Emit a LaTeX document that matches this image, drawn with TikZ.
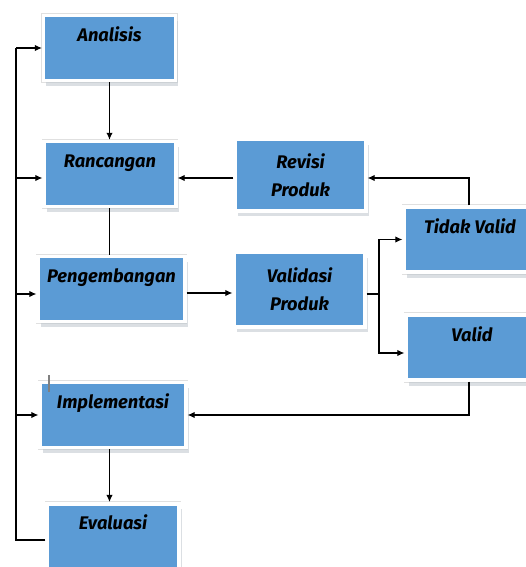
\documentclass[tikz,border=0pt]{standalone}
\usepackage{fontspec}
\setmainfont{Fira Sans}
\usepackage{tikz}
\usetikzlibrary{positioning,arrows.meta,calc,shadows}
\definecolor{boxblue}{RGB}{91,155,213}

\begin{document}
\begin{tikzpicture}[>={Latex[length=5pt,width=4.5pt]}, x=0.025cm, y=-0.025cm, line width=0.75pt,
	tahap/.style={rectangle, fill=boxblue, draw=white, line width=0.09cm,
		preaction={draw=black!12, line width=0.13cm},
		drop shadow={shadow xshift=0.07cm, shadow yshift=-0.14cm, fill=boxblue!40!black!30, opacity=0.55},
		font=\fontsize{13}{20}\selectfont\bfseries\itshape, align=center},
	satu/.style={tahap, inner ysep=0pt, text height=0.65cm, text depth=0.97cm},
	dua/.style={tahap}]
\clip (0,0) rectangle (526,567);
%	\draw[lightgray] (0,0) grid[step=50] (526,567);

\node[satu,minimum width=3.29cm] (Analisis) at (109.5,48) {Analisis};
\node[satu,minimum width=3.29cm] (Rancangan) at (110,174) {Rancangan};
\node[satu,minimum width=3.665cm] (Pengembangan) at (111.5,289) {Pengembangan};
\node[satu,minimum width=3.64cm] (Implementasi) at (113,415) {Implementasi};
\node[satu,minimum width=3.29cm,text depth=1.4cm,anchor=north] (Evaluasi) at (113,502) {Evaluasi};

\node[dua,minimum width=3.265cm,minimum height=1.79cm] (Revisi) at (300.5,175) {Revisi\\Produk};
\node[dua,minimum width=3.265cm,minimum height=1.865cm] (Validasi) at (299.5,289.5) {Validasi\\Produk};

\node[satu,minimum width=3.29cm] (TidakValid) at (470,239.5) {Tidak Valid};
\node[satu,minimum width=3.29cm] (Valid) at (472,347.5) {Valid};

\coordinate (Spine) at (16,540);
\coordinate (Tengah) at (109.5,0);
\coordinate (Cabang) at (379,294);
\coordinate (Balik) at (469,178);
\coordinate (Turun) at (469,415);

% garis kiri
\draw  (Evaluasi.west |- Spine) -- (Spine) -- (Spine |- Analisis);
\draw[->]  (Spine |- Analisis) -- (Analisis);
\draw[->]  (Spine |- Balik) -- (Rancangan.west |- Balik);
\draw[->]  (Spine |- Cabang) -- (Pengembangan.west |- Cabang);
\draw[->]  (Spine |- Turun) -- (Implementasi.west |- Turun);

\draw[->]  (Analisis.south -| Tengah) -- (Rancangan.north -| Tengah);
\draw  (Rancangan.south -| Tengah) -- (Pengembangan.north -| Tengah);
\draw[->]  (Implementasi.south -| Tengah) -- (Evaluasi.north -| Tengah);

\draw[->]  (Pengembangan.east |- 0,293) -- (Validasi.west |- 0,293);
\draw  (Validasi.east |- Cabang) -- (Cabang);
\draw[->]  (Cabang) |- (TidakValid.west);
\draw[->]  (Cabang) |- (Valid.west |- 0,353);

\draw[->]  (TidakValid.north -| Balik) -- (Balik) -- (Revisi.east |- Balik);
\draw[->]  (Revisi.west |- Balik) -- (Rancangan.east |- Balik);
\draw[->]  (Valid.south -| Turun) -- (Turun) -- (Implementasi.east |- Turun);

\draw[gray,line width=1pt] (49,375) -- (49,392);
\end{tikzpicture}
\end{document}
